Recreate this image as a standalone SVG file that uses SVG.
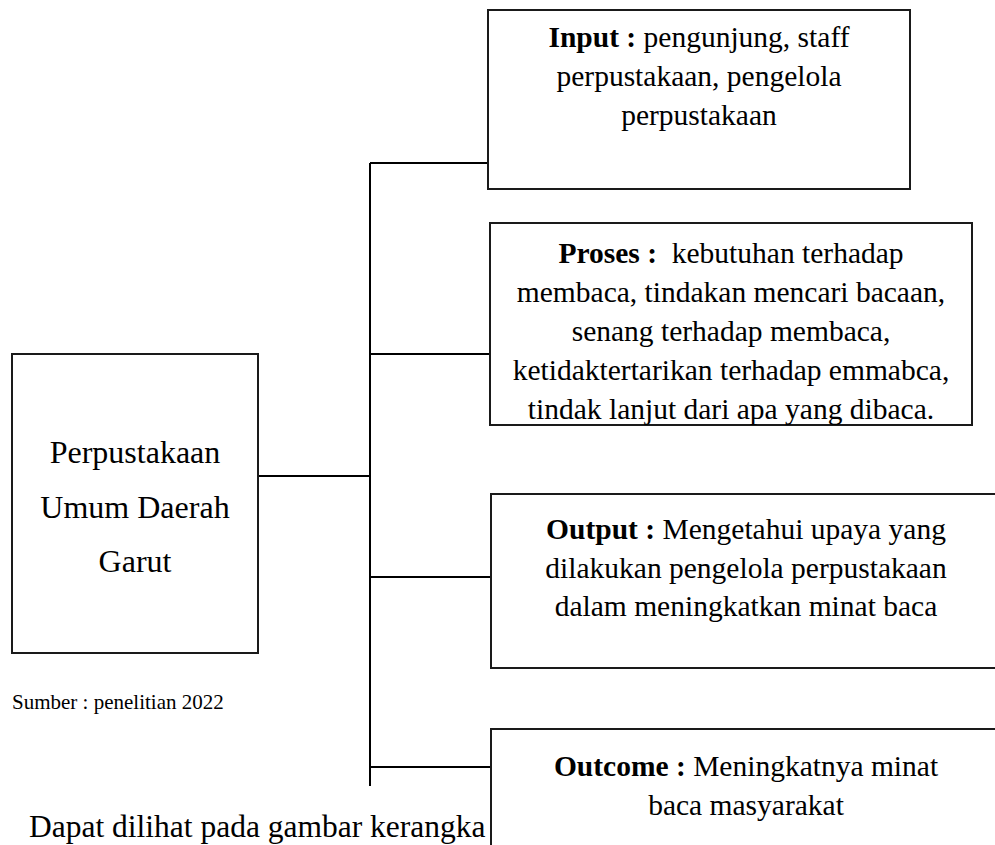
<svg xmlns="http://www.w3.org/2000/svg" width="995" height="845" viewBox="0 0 995 845">
<style>
.box{fill:#fff;stroke:#1a1a1a;stroke-width:2}
.ln{stroke:#000;stroke-width:2;fill:none}
.t{font-family:"Liberation Serif","Times New Roman",serif;font-size:29.5px;fill:#000}
.b{font-weight:bold}
.big{font-family:"Liberation Serif","Times New Roman",serif;font-size:32px;fill:#000}
.dapat{font-family:"Liberation Serif","Times New Roman",serif;font-size:31.5px;fill:#000}
.small{font-family:"Liberation Serif","Times New Roman",serif;font-size:21px;fill:#000}
</style>
<rect width="995" height="845" fill="#fff"/>
<g id="connectors">
<line class="ln" x1="370" y1="163" x2="370" y2="786"/>
<line class="ln" x1="258" y1="476" x2="370" y2="476"/>
<line class="ln" x1="370" y1="163" x2="488" y2="163"/>
<line class="ln" x1="370" y1="354" x2="490" y2="354"/>
<line class="ln" x1="370" y1="577" x2="491" y2="577"/>
<line class="ln" x1="370" y1="767" x2="491" y2="767"/>
</g>
<g id="node-perpustakaan">
<rect class="box" x="12" y="354" width="246" height="299"/>
<text class="big" text-anchor="middle"><tspan x="135" y="463">Perpustakaan</tspan><tspan x="135" y="518">Umum Daerah</tspan><tspan x="135" y="572">Garut</tspan></text>
</g>
<g id="node-input">
<rect class="box" x="488" y="10" width="422" height="179"/>
<text class="t" text-anchor="middle"><tspan x="699" y="47"><tspan class="b">Input :</tspan> pengunjung, staff</tspan><tspan x="699" y="86">perpustakaan, pengelola</tspan><tspan x="699" y="125">perpustakaan</tspan></text>
</g>
<g id="node-proses">
<rect class="box" x="490" y="223" width="482" height="202"/>
<text class="t" text-anchor="middle"><tspan x="731" y="263"><tspan class="b">Proses :</tspan>&#160; kebutuhan terhadap</tspan><tspan x="731" y="302">membaca, tindakan mencari bacaan,</tspan><tspan x="731" y="341">senang terhadap membaca,</tspan><tspan x="731" y="380">ketidaktertarikan terhadap emmabca,</tspan><tspan x="731" y="419">tindak lanjut dari apa yang dibaca.</tspan></text>
</g>
<g id="node-output">
<rect class="box" x="491" y="494" width="520" height="174"/>
<text class="t" text-anchor="middle"><tspan x="746" y="539"><tspan class="b">Output :</tspan> Mengetahui upaya yang</tspan><tspan x="746" y="578">dilakukan pengelola perpustakaan</tspan><tspan x="746" y="616">dalam meningkatkan minat baca</tspan></text>
</g>
<g id="node-outcome">
<rect class="box" x="491" y="729" width="520" height="200"/>
<text class="t" text-anchor="middle"><tspan x="746" y="776"><tspan class="b">Outcome :</tspan> Meningkatnya minat</tspan><tspan x="746" y="815">baca masyarakat</tspan></text>
</g>
<text class="small" x="12" y="709">Sumber : penelitian 2022</text>
<text class="dapat" x="29" y="837">Dapat dilihat pada gambar kerangka</text>
</svg>
